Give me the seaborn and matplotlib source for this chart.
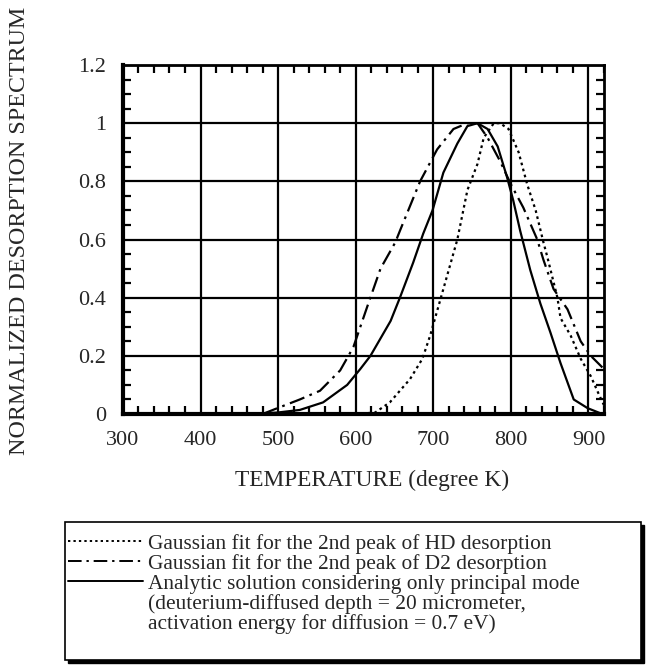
import numpy as np
import pandas as pd
import matplotlib
matplotlib.use("Agg")
import matplotlib.pyplot as plt
import seaborn as sns
from matplotlib.lines import Line2D
from matplotlib.patches import Rectangle
from matplotlib.ticker import MultipleLocator

# Gaussian fit, 2nd peak of HD desorption (dotted)
hd_temp = [600, 625, 644, 670, 686, 696, 713, 731, 744, 757, 765, 778, 786, 797,
           810, 821, 832, 842, 847, 860, 864, 877, 890, 903, 913, 920]
hd_val = [0.0, 0.005, 0.04, 0.12, 0.19, 0.27, 0.43, 0.60, 0.77, 0.86, 0.95, 1.0, 1.0, 0.98,
          0.90, 0.79, 0.70, 0.59, 0.54, 0.40, 0.33, 0.27, 0.19, 0.13, 0.07, 0.03]

# Gaussian fit, 2nd peak of D2 desorption (dash-dot)
d2_temp = [480, 499, 528, 554, 580, 597, 606, 615, 632, 651, 657, 683, 705, 726,
           744, 757, 770, 786, 800, 816, 834, 842, 855, 873, 890, 903, 918]
d2_val = [0.0, 0.02, 0.05, 0.08, 0.15, 0.23, 0.30, 0.37, 0.50, 0.59, 0.63, 0.80, 0.91, 0.98,
          1.0, 1.0, 0.95, 0.87, 0.79, 0.71, 0.60, 0.53, 0.43, 0.36, 0.25, 0.20, 0.16]

# analytic solution, principal mode only (solid)
an_temp = [460, 499, 528, 558, 589, 606, 619, 645, 657, 674, 687, 699, 713, 731,
           744, 757, 770, 783, 795, 803, 812, 825, 838, 851, 864, 881, 899, 915]
an_val = [0.0, 0.005, 0.014, 0.04, 0.10, 0.155, 0.2, 0.32, 0.40, 0.52, 0.62, 0.70, 0.83, 0.93,
          0.99, 1.0, 0.98, 0.92, 0.815, 0.735, 0.63, 0.495, 0.38, 0.28, 0.175, 0.05, 0.02, 0.003]

legend_labels = ["Gaussian fit for the 2nd peak of HD desorption",
                 "Gaussian fit for the 2nd peak of D2 desorption",
                 "Analytic solution considering only principal mode",
                 "(deuterium-diffused depth = 20 micrometer,",
                 "activation energy for diffusion = 0.7 eV)"]

sns.set_style("ticks")
plt.rcParams["font.family"] = ["Liberation Serif", "DejaVu Serif"]

W, H = 647, 667
fig = plt.figure(figsize=(W / 100, H / 100), dpi=100)
ax = fig.add_axes([0.190, 0.3793, 0.7435, 0.5232])

dotted = (0, (1.2, 1.6))
dashdot = (0, (7, 2.5, 1.2, 2.5))
for t, v, ls in [(hd_temp, hd_val, dotted), (d2_temp, d2_val, dashdot), (an_temp, an_val, "-")]:
    df = pd.DataFrame({"T": t, "y": v})
    sns.lineplot(data=df, x="T", y="y", ax=ax, color="black", linewidth=1.6,
                 linestyle=ls, zorder=3)

ax.set_xlim(300, 920)
ax.set_ylim(0, 1.2)
ax.xaxis.set_minor_locator(MultipleLocator(20))
ax.yaxis.set_minor_locator(MultipleLocator(0.05))
ax.set_yticks([0, 0.2, 0.4, 0.6, 0.8, 1.0, 1.2])
ax.set_yticklabels(["0", "0.2", "0.4", "0.6", "0.8", "1", "1.2"])
ax.set_xticks([300, 400, 500, 600, 700, 800, 900])
ax.grid(True, which="major", color="black", linewidth=1.6)
ax.tick_params(which="both", direction="in", top=True, right=True,
               labelsize=16, color="black", width=1.6)
ax.tick_params(axis="x", which="major", length=0, pad=12)
ax.tick_params(axis="y", which="major", length=0, pad=12)
ax.tick_params(which="minor", length=6)
for side, lw in [("left", 3), ("bottom", 3), ("top", 2), ("right", 2)]:
    ax.spines[side].set_linewidth(lw)
    ax.spines[side].set_color("black")
ax.set_xlabel("")
ax.set_ylabel("")

fig.text(372 / W, 1 - 480 / H, "TEMPERATURE (degree K)", ha="center", va="center", fontsize=16.8)
fig.text(20 / W, 1 - 231 / H, "NORMALIZED DESORPTION SPECTRUM", ha="center", va="center",
         rotation=90, fontsize=17.3)

# legend box with a solid black drop shadow
x0, y0, x1, y1 = 65, 522, 641, 660
fig.patches.append(Rectangle((x0 + 3, H - y1 - 3), x1 - x0, y1 - y0, transform=None,
                             facecolor="black", edgecolor="black", zorder=1))
fig.patches.append(Rectangle((x0, H - y1), x1 - x0, y1 - y0, transform=None,
                             facecolor="white", edgecolor="black", linewidth=1.2, zorder=2))

handles = [Line2D([], [], color="black", linewidth=1.4, linestyle=dotted),
           Line2D([], [], color="black", linewidth=1.4, linestyle=dashdot),
           Line2D([], [], color="black", linewidth=1.4, linestyle="-"),
           Line2D([], [], color="none"),
           Line2D([], [], color="none")]
leg = fig.legend(handles, legend_labels, loc="upper left",
                 bbox_to_anchor=(68 / W, 1 - 534 / H), frameon=False,
                 fontsize=15.4, handlelength=3.5, handletextpad=0.25,
                 labelspacing=0.0, borderpad=0, borderaxespad=0)
leg.set_zorder(3)

fig.savefig("out.png", dpi=100)
